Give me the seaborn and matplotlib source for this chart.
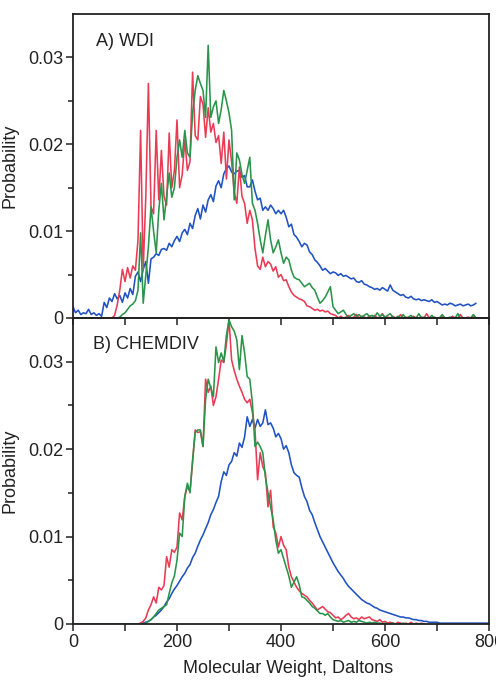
import numpy as np
import pandas as pd
import matplotlib
matplotlib.use("Agg")
import matplotlib.pyplot as plt
import seaborn as sns
from matplotlib.ticker import FixedLocator

nan = np.nan
# bin centres in Daltons, 5 Da bins
mw = np.arange(0, 805, 5)

# probabilities, in units of 1e-3
# A) WDI
wdi_blue = [
    1.3, 0.6, 0.9, 0.4, 0.6, 0.5, 1.0, 0.4, 0.6, 0.3, 0.5, 0.2, 1.8, 1.2, 2.3, 1.9, 2.8, 2.2, 2.6, 1.8,
    2.9, 2.3, 3.4, 2.7, 4.8, 5.3, 4.2, 5.6, 6.5, 4.0, 6.8, 7.0, 7.4, 7.2, 7.9, 8.0, 7.8, 8.6, 8.2, 8.9,
    9.4, 8.8, 9.8, 10.2, 9.6, 10.9, 10.3, 11.8, 12.6, 11.4, 13.0, 12.2, 13.6, 14.2, 13.4, 15.2, 15.8, 15.0, 16.6, 17.2,
    17.5, 16.8, 16.6, 16.9, 17.0, 16.2, 16.4, 15.1, 15.1, 15.9, 14.6, 13.6, 13.8, 12.4, 12.8, 12.4, 13.0, 12.6, 12.0, 12.4,
    12.0, 12.4, 11.6, 10.5, 10.8, 9.6, 9.3, 8.8, 8.2, 8.6, 8.4, 7.6, 7.3, 6.7, 6.4, 6.0, 5.5, 5.7, 5.4, 5.1,
    5.3, 5.2, 4.9, 5.1, 4.8, 4.9, 4.7, 4.5, 4.6, 4.2, 4.1, 4.3, 3.9, 3.8, 3.6, 3.5, 3.3, 3.4, 3.2, 3.5,
    3.3, 3.1, 3.8, 3.2, 3.0, 2.8, 2.6, 2.7, 2.4, 2.3, 2.5, 2.2, 2.1, 2.2, 2.0, 2.1, 2.0, 1.9, 2.1, 1.8,
    1.9, 1.7, 1.5, 1.6, 1.5, 1.7, 1.6, 1.4, 1.5, 1.6, 1.4, 1.5, 1.6, 1.4, 1.5, 1.7, nan, nan, nan, nan,
    nan]
wdi_red = [
    0, 0, 0, 0, 0, 0, 0, 0, 0, 0, 0, 0, 0, 0, 0, 0, 0.3, 1.5, 3.2, 5.6,
    4.2, 5.8, 4.6, 6.0, 5.5, 9.0, 21.6, 5.5, 14.0, 27.0, 12.8, 12.0, 21.6, 13.6, 19.3, 14.0, 13.0, 21.3, 15.0, 17.0,
    22.8, 15.0, 16.5, 20.5, 17.0, 18.0, 28.3, 21.0, 20.5, 25.5, 24.6, 20.8, 24.2, 21.4, 22.4, 20.2, 21.0, 17.8, 21.4, 16.0,
    20.5, 18.0, 14.5, 13.2, 17.4, 14.0, 13.2, 10.9, 12.4, 11.3, 8.0, 6.0, 5.6, 7.0, 5.9, 6.5, 6.2, 5.4, 5.9, 4.7,
    5.0, 4.3, 4.4, 3.6, 3.0, 2.6, 2.4, 2.2, 2.1, 1.9, 1.4, 1.3, 1.1, 0.9, 1.0, 0.8, 0.9, 0.7, 0.8, 0.5,
    0.4, 0.3, 0, 0.2, 0, 0.1, 0.3, 0, 0.1, 0.4, 0, 0.2, 0.1, 0, 0.2, 0, 0.3, 0, 0.1, 0.5,
    0, 0.1, 0, 0.2, 0, 0, 0.4, 0, 0.1, 0, 0, 0.2, 0, 0, 0.1, 0, 0.5, 0, 0, 0.1,
    0, 0, 0.3, 0, 0, 0, 0.2, 0, 0, 0.4, 0, 0, 0.1, 0, 0.3, 0, 0, 0, 0, 0,
    0]
wdi_green = [
    0, 0, 0, 0, 0, 0, 0, 0, 0, 0, 0, 0, 0, 0, 0, 0, 0, 0, 0.1, 0.4,
    0.6, 1.0, 1.4, 1.6, 2.0, 3.2, 9.8, 1.7, 5.0, 8.2, 12.8, 10.0, 7.5, 12.4, 15.5, 11.3, 14.0, 16.7, 13.9, 15.0,
    18.5, 20.5, 18.5, 21.6, 19.0, 18.5, 23.6, 26.2, 27.9, 27.0, 26.2, 23.1, 31.4, 23.1, 24.3, 25.0, 22.4, 24.0, 26.2, 25.0,
    23.6, 21.6, 13.6, 19.0, 18.2, 16.5, 15.5, 17.0, 18.5, 13.2, 12.4, 10.9, 9.0, 7.5, 9.5, 11.3, 9.0, 7.5, 8.2, 9.0,
    7.5, 6.3, 7.0, 6.7, 5.5, 4.7, 4.5, 4.4, 4.0, 3.6, 3.8, 4.0, 3.5, 3.2, 2.4, 1.7, 2.0, 2.4, 3.0, 3.6,
    1.3, 0.9, 0.5, 0.7, 0.9, 0.4, 0.1, 0.3, 0.5, 0.2, 0.4, 0.1, 0.3, 0.5, 0.2, 0.3, 0.1, 0.6, 0.2, 0.4,
    0.1, 0.3, 0.5, 0.1, 0, 0.2, 0, 0.4, 0, 0.1, 0.3, 0, 0, 0.5, 0, 0.1, 0, 0, 0.3, 0,
    0, 0, 0.4, 0, 0, 0.1, 0, 0, 0.5, 0, 0, 0, 0, 0, 0.4, 0, 0, 0, 0, 0,
    0]

# B) CHEMDIV
chemdiv_blue = [
    nan, nan, nan, nan, nan, nan, nan, nan, nan, nan, nan, nan, nan, nan, nan, nan, nan, nan, nan, nan,
    nan, nan, nan, nan, nan, 0.0, 0.05, 0.1, 0.2, 0.3, 0.5, 0.8, 1.0, 1.3, 1.6, 2.0, 2.5, 2.9, 3.5, 4.0,
    4.4, 4.9, 5.4, 5.8, 6.4, 6.8, 7.6, 8.1, 8.9, 9.6, 10.2, 10.9, 11.6, 12.5, 13.1, 13.9, 14.6, 16.3, 17.4, 17.0,
    18.2, 18.6, 19.6, 19.2, 20.7, 20.2, 21.4, 23.7, 22.6, 23.4, 22.4, 23.4, 22.6, 23.0, 24.5, 22.8, 23.0, 22.4, 21.4, 21.8,
    21.2, 20.0, 20.4, 19.6, 18.2, 17.3, 17.0, 16.8, 15.6, 14.6, 14.0, 13.0, 12.5, 11.6, 10.8, 10.0, 9.4, 8.8, 8.2, 7.6,
    7.0, 6.5, 6.0, 5.6, 5.2, 4.7, 4.3, 4.0, 3.7, 3.4, 3.1, 2.8, 2.6, 2.4, 2.3, 2.1, 1.9, 1.8, 1.6, 1.5,
    1.4, 1.3, 1.2, 1.1, 1.0, 0.9, 0.8, 0.8, 0.7, 0.7, 0.6, 0.5, 0.5, 0.4, 0.4, 0.3, 0.3, 0.2, 0.2, 0.2,
    0.2, 0.1, 0.1, 0.1, 0.1, 0.1, 0.1, 0.1, 0.1, 0.1, 0.1, 0.1, 0.1, 0.1, 0.1, 0.1, 0.1, 0.1, 0.1, 0.1,
    0.1]
chemdiv_red = [
    0, 0, 0, 0, 0, 0, 0, 0, 0, 0, 0, 0, 0, 0, 0, 0, 0, 0, 0, 0,
    0, 0, 0, 0, 0, 0, 0.1, 0.3, 0.7, 1.6, 2.2, 3.1, 2.4, 4.2, 3.9, 4.4, 7.7, 6.5, 8.5, 8.2,
    8.8, 12.7, 11.9, 14.6, 15.7, 15.2, 18.5, 22.2, 21.9, 22.0, 20.3, 28.0, 26.5, 27.2, 25.0, 26.0, 28.0, 30.2, 29.9, 32.0,
    34.8, 30.2, 29.0, 28.0, 27.2, 26.5, 25.7, 25.3, 25.7, 24.2, 22.2, 16.5, 19.6, 18.0, 17.3, 13.4, 15.3, 11.1, 10.4, 8.8,
    10.0, 9.0, 8.5, 6.5, 5.4, 4.8, 4.2, 3.8, 3.5, 3.3, 3.1, 2.7, 2.4, 2.0, 1.6, 1.8, 2.0, 1.7, 1.4, 1.3,
    1.0, 0.7, 0.8, 0.5, 0.7, 1.0, 1.2, 0.8, 0.6, 0.7, 0.5, 0.8, 0.6, 0.7, 0.8, 0.5, 0.4, 0.3, 0.5, 0.2,
    0.3, 0.1, 0.2, 0.1, 0, 0.2, 0.1, 0, 0.1, 0, 0.2, 0, 0.1, 0, 0.1, 0, nan, nan, nan, nan,
    nan, nan, nan, nan, nan, nan, nan, nan, nan, nan, nan, nan, nan, nan, nan, nan, nan, nan, nan, nan,
    nan]
chemdiv_green = [
    0, 0, 0, 0, 0, 0, 0, 0, 0, 0, 0, 0, 0, 0, 0, 0, 0, 0, 0, 0,
    0, 0, 0, 0, 0, 0, 0, 0, 0.1, 0.3, 0.5, 0.8, 1.2, 1.6, 1.8, 2.0, 2.2, 3.5, 4.7, 5.5,
    7.3, 10.4, 10.0, 14.6, 16.1, 15.0, 18.8, 21.9, 22.2, 22.2, 20.3, 25.7, 28.0, 27.0, 26.0, 31.7, 29.9, 31.0, 30.0, 33.0,
    34.8, 34.0, 33.5, 32.5, 29.1, 33.0, 31.0, 28.3, 28.0, 25.3, 20.3, 20.8, 20.3, 19.6, 16.8, 15.0, 13.4, 11.9, 9.6, 8.1,
    8.5, 7.5, 6.5, 5.5, 4.2, 4.8, 5.4, 4.5, 3.1, 3.0, 2.7, 2.4, 2.0, 1.8, 1.5, 1.2, 1.2, 1.0, 1.2, 0.8,
    0.5, 0.4, 0.3, 0.4, 0.2, 0.3, 0.4, 0.2, 0.3, 0.2, 0.4, 0.3, 0.2, 0.1, 0.2, 0.1, 0.2, 0.1, 0.1, 0,
    0.1, 0, 0, 0.1, 0, 0, 0, 0.1, 0, 0, 0, 0, 0, 0, 0, 0, nan, nan, nan, nan,
    nan, nan, nan, nan, nan, nan, nan, nan, nan, nan, nan, nan, nan, nan, nan, nan, nan, nan, nan, nan,
    nan]

series_names = ["blue", "red", "green"]
palette = {"blue": "#1f52c2", "red": "#ea3b55", "green": "#2b944a"}
ink = "#222222"


def make_frame(blue, red, green):
    frames = []
    for name, vals in zip(series_names, [blue, red, green]):
        frames.append(pd.DataFrame({"mw": mw, "prob": np.array(vals, dtype=float) / 1000.0, "set": name}))
    return pd.concat(frames, ignore_index=True)


sns.set_theme(style="ticks")
plt.rcParams["font.family"] = ["Liberation Sans", "DejaVu Sans"]

fig = plt.figure(figsize=(4.96, 6.82), dpi=100)
ax_top = fig.add_axes([73 / 496, 1 - 318 / 682, 416 / 496, 304 / 682])
ax_bot = fig.add_axes([73 / 496, 1 - 624 / 682, 416 / 496, 306 / 682])
ax_bot.patch.set_alpha(0)

panels = [(ax_top, make_frame(wdi_blue, wdi_red, wdi_green), "A) WDI", 0.055, 0.908),
          (ax_bot, make_frame(chemdiv_blue, chemdiv_red, chemdiv_green), "B) CHEMDIV", 0.048, 0.912)]

for ax, df, title, tx, ty in panels:
    sns.lineplot(data=df, x="mw", y="prob", hue="set", hue_order=series_names, palette=palette,
                 estimator=None, sort=False, legend=False, linewidth=1.15, ax=ax)
    ax.set_xlim(0, 800)
    ax.set_ylim(0, 0.035)
    ax.set_xticks(range(0, 801, 100))
    ax.yaxis.set_major_locator(FixedLocator([0, 0.01, 0.02, 0.03]))
    ax.yaxis.set_minor_locator(FixedLocator([0.005, 0.015, 0.025]))
    ax.set_yticklabels(["0", "0.01", "0.02", "0.03"])
    ax.tick_params(which="major", direction="out", length=5, width=1.1, color=ink,
                   labelcolor=ink, labelsize=13, pad=2)
    ax.tick_params(which="minor", direction="out", length=3.5, width=1.1, color=ink)
    for s in ax.spines.values():
        s.set_linewidth(1.3)
        s.set_color(ink)
    ax.set_ylabel("Probability", fontsize=13, color=ink)
    ax.yaxis.set_label_coords(-0.13, 0.5)
    ax.text(tx, ty, title, transform=ax.transAxes, fontsize=13, color=ink, va="center", ha="left")

ax_top.set_xticklabels([])
ax_top.set_xlabel("")
ax_bot.set_xticklabels(["0", "", "200", "", "400", "", "600", "", "800"])
ax_bot.set_xlabel("Molecular Weight, Daltons", fontsize=13, color=ink)
ax_bot.xaxis.set_label_coords(0.516, -0.118)

fig.savefig("out.png", dpi=100)
